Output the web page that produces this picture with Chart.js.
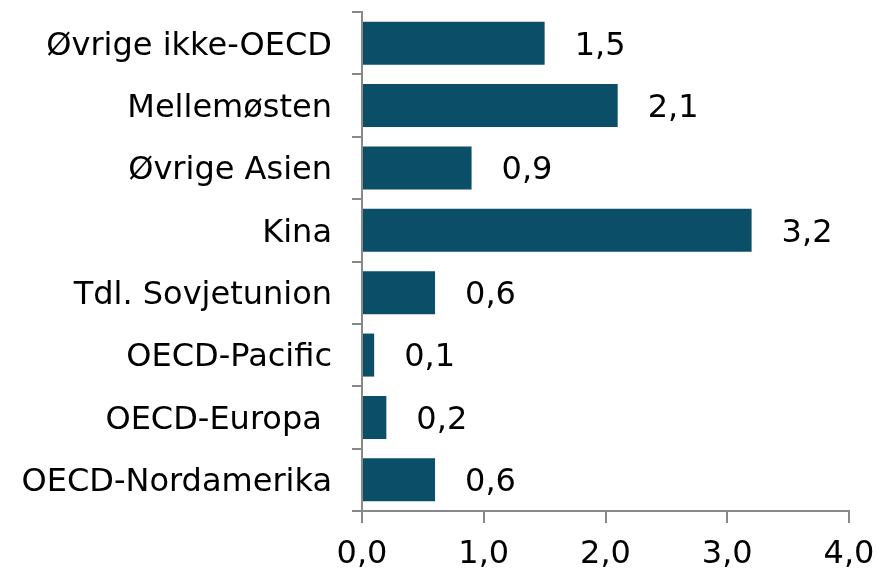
<!DOCTYPE html>
<html><head><meta charset="utf-8">
<script src="https://cdn.jsdelivr.net/npm/chart.js@4/dist/chart.umd.min.js"></script>
<style>html,body{margin:0;padding:0;background:#fff}#wrap{width:877px;height:573px}</style>
</head><body><div id="wrap"><canvas id="c" width="877" height="573"></canvas></div>
<script>
const categories = ["Øvrige ikke-OECD","Mellemøsten","Øvrige Asien","Kina","Tdl. Sovjetunion","OECD-Pacific","OECD-Europa ","OECD-Nordamerika"];
const values = [1.5,2.1,0.9,3.2,0.6,0.1,0.2,0.6];
const xTicks = [0,1,2,3,4];
const fmt = v => Number(v).toFixed(1).replace('.', ',');
const FONT = "'DejaVu Sans', Verdana, sans-serif";
const FS = 32;
const labelPlugin = {
  id: 'vlabels',
  afterDatasetsDraw(chart){
    const ctx = chart.ctx;
    const meta = chart.getDatasetMeta(0);
    ctx.save();
    ctx.font = FS + "px " + FONT;
    ctx.fillStyle = "#000";
    ctx.textBaseline = "middle";
    ctx.textAlign = "left";
    meta.data.forEach((el,i)=>{
      ctx.fillText(fmt(values[i]), el.x + 30, el.y + 3);
    });
    ctx.restore();
  }
};
new Chart(document.getElementById('c'), {
  type: 'bar',
  data: { labels: categories, datasets: [{ data: values, backgroundColor: '#0B4E67', borderWidth: 0, barPercentage: 0.69, categoryPercentage: 1 }] },
  options: {
    indexAxis: 'y', responsive: false, animation: false,
    layout: { padding: { top: 12, right: 28, left: 0, bottom: 0 } },
    plugins: { legend: { display: false }, tooltip: { enabled: false } },
    scales: {
      x: {
        min: 0, max: 4,
        afterBuildTicks: s => { s.ticks = xTicks.map(v=>({value:v})); },
        ticks: { callback: v => fmt(v), color: '#000', font: { size: FS, family: FONT }, padding: 12, maxRotation: 0 },
        grid: { drawOnChartArea: false, color: '#888', tickLength: 12, lineWidth: 2 },
        border: { color: '#888', width: 2 },
        afterFit: s => { s.height = 62; s.paddingLeft = 0; s.paddingRight = 0; }
      },
      y: {
        ticks: { color: '#000', font: { size: FS, family: FONT }, padding: 20, labelOffset: 3 },
        grid: { offset: true, drawOnChartArea: false, color: '#888', tickLength: 10, lineWidth: 2 },
        border: { color: '#888', width: 2 },
        afterFit: s => { s.width = 362; s.paddingTop = 0; s.paddingBottom = 0; }
      }
    }
  },
  plugins: [labelPlugin]
});
</script></body></html>
